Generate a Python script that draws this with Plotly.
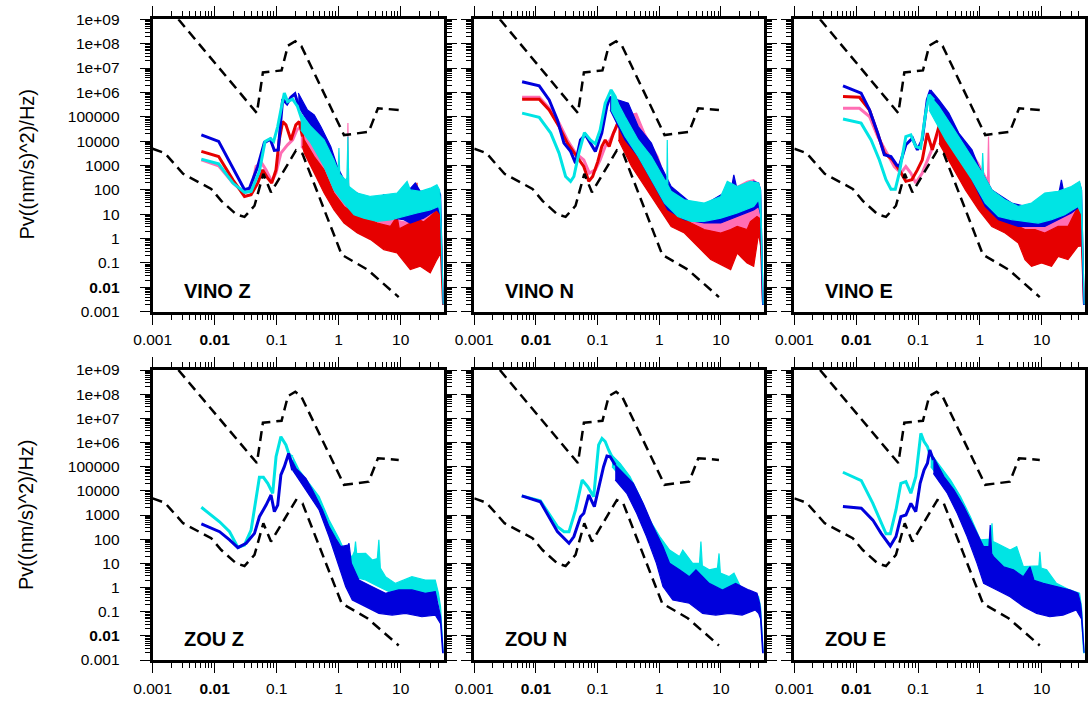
import numpy as np
import plotly.graph_objects as go

# ---------------------------------------------------------------------------
# Data: (frequency [Hz], PSD [dB re (nm/s)^2/Hz]) pairs.
# Smooth low-frequency part of each spectrum is a line; the noisy
# high-frequency part is given as an upper / lower envelope.
# ---------------------------------------------------------------------------

# Peterson high / low noise models (velocity)
NHNM = [(0.0026, 90.0), (0.048, 51.5), (0.060, 68.2), (0.120, 69.0), (0.152, 79.2),
        (0.200, 81.0), (0.250, 79.0), (1.22, 42.5), (3.05, 43.8), (4.3, 53.5), (9.3, 52.8)]
NLNM = [(0.001, 36.9), (0.00157, 35.1), (0.0031, 26.6), (0.0088, 20.4), (0.0128, 15.5),
        (0.0222, 10.0), (0.0303, 8.9), (0.0439, 13.5), (0.061, 26.6), (0.081, 19.0),
        (0.205, 36.2), (0.261, 34.8), (1.12, -6.6), (2.9, -12.7), (9.3, -24.0)]

# ---- VINO Z ----
VZ_PINK = [(0.0061, 32.3), (0.0116, 29.9), (0.0197, 22.8), (0.0303, 18.7), (0.0387, 20.0), (0.0466, 29.6),
           (0.0574, 31.0), (0.0675, 28.2), (0.0832, 23.5), (0.0975, 26.9), (0.117, 35.1), (0.150, 38.5),
           (0.181, 40.5), (0.212, 44.6), (0.245, 46.0)]
VZ_PINK_HI = [(0.245, 48.7), (0.356, 46.0), (0.515, 40.5), (0.745, 32.3), (1.08, 24.1), (1.38, 22.0), (1.41, 47.4),
              (1.45, 21.0), (1.56, 18.7), (2.26, 13.2), (4.18, 9.1), (7.74, 7.8), (14.3, 6.4), (23.4, 9.1),
              (34.0, 10.5), (44.0, 10.0), (48.5, -27.0)]
VZ_PINK_LO = [(0.245, 37.8), (0.356, 33.0), (0.582, 21.4), (0.953, 13.2), (1.56, 7.8), (2.55, 5.0), (5.35, 2.3),
              (11.2, 0.9), (18.3, -0.4), (30.0, 2.3), (38.4, 7.8), (44.0, 5.0), (47.5, -27.0)]
VZ_RED = [(0.0061, 35.8), (0.0116, 33.7), (0.0197, 24.1), (0.0303, 17.3), (0.0387, 18.0), (0.0495, 22.8),
          (0.0596, 28.2), (0.0716, 24.8), (0.0832, 22.8), (0.0975, 28.2), (0.110, 40.5), (0.125, 48.0),
          (0.141, 46.7), (0.170, 40.5), (0.204, 46.7), (0.231, 48.0), (0.261, 41.9)]
VZ_RED_HI = [(0.261, 44.0), (0.278, 40.5), (0.403, 33.7), (0.582, 28.2), (0.841, 18.7), (1.22, 13.2), (1.77, 10.5),
             (2.55, 9.1), (4.18, 6.4), (6.84, 5.0), (8.75, 9.1), (9.5, 4.0), (14.3, 6.4), (17.5, 8.0), (18.3, 22.9),
             (19.2, 8.0), (23.4, 6.8), (30.0, 9.1), (38.4, 11.8), (44.0, 10.0), (48.5, -27.0)]
VZ_RED_LO = [(0.261, 38.0), (0.278, 35.1), (0.403, 26.9), (0.582, 18.7), (0.841, 11.8), (1.22, 6.4), (2.0, 2.3),
             (3.27, -0.4), (5.35, -4.5), (8.75, -5.9), (14.3, -12.7), (20.7, -11.3), (30.0, -14.1), (38.4, -8.6),
             (44.0, -6.0), (47.5, -27.0)]
VZ_BLUE = [(0.0061, 42.6), (0.0116, 39.9), (0.0303, 20.1), (0.0364, 20.7), (0.0495, 29.6), (0.0634, 39.4),
           (0.0791, 40.8), (0.0916, 36.2), (0.106, 36.4), (0.125, 57.2), (0.147, 55.3), (0.170, 58.0),
           (0.197, 59.4), (0.223, 54.9)]
VZ_BLUE_HI = [(0.223, 59.7), (0.314, 52.8), (0.403, 50.8), (0.515, 46.0), (0.745, 37.8), (0.953, 29.6), (1.22, 24.1),
              (1.56, 20.0), (2.55, 17.3), (4.18, 15.9), (5.35, 18.0), (8.75, 14.6), (17.2, 22.8), (20.7, 19.4),
              (34.0, 19.4), (40.8, 20.0), (44.0, 18.0), (48.5, -27.0)]
VZ_BLUE_LO = [(0.223, 54.2), (0.356, 46.0), (0.582, 35.1), (0.953, 21.4), (1.38, 13.2), (2.26, 9.8), (4.18, 9.1),
              (11.2, 7.8), (14.3, 6.4), (23.4, 8.4), (38.4, 11.8), (44.0, 10.0), (47.5, -27.0)]
VZ_CYAN = [(0.0061, 32.6), (0.0116, 30.7), (0.0197, 22.8), (0.0303, 19.0), (0.0387, 19.4), (0.0527, 27.6),
           (0.065, 39.9), (0.0791, 41.1), (0.0895, 39.9), (0.104, 46.0), (0.120, 54.2), (0.133, 59.7),
           (0.150, 56.2), (0.181, 57.2), (0.217, 54.2), (0.261, 48.0)]
VZ_CYAN_HI = [(0.245, 51.5), (0.356, 46.0), (0.582, 40.5), (0.841, 32.3), (0.98, 28.0), (1.01, 37.2), (1.04, 26.5),
              (1.30, 24.0), (1.36, 25.0), (1.41, 41.9), (1.45, 23.0), (1.47, 21.4), (2.0, 18.7), (3.27, 17.3),
              (5.35, 18.0), (8.75, 18.7), (12.7, 23.5), (14.3, 20.0), (20.7, 19.4), (30.0, 20.7), (38.4, 22.1),
              (42.4, 20.0), (44.0, 15.0), (48.5, -27.0)]
VZ_CYAN_LO = [(0.245, 44.6), (0.356, 39.2), (0.582, 29.6), (0.841, 20.0), (1.22, 14.6), (1.77, 9.8), (2.55, 8.4),
              (4.18, 7.1), (6.84, 7.7), (11.2, 9.1), (18.3, 10.5), (30.0, 11.8), (40.8, 13.2), (44.0, 10.0),
              (47.5, -27.0)]

# ---- VINO N ----
VN_PINK = [(0.00597, 58.0), (0.0113, 58.0), (0.0164, 53.5), (0.0237, 47.4), (0.0323, 40.5), (0.0439, 35.1),
           (0.0597, 32.3), (0.0736, 26.9), (0.0920, 28.2), (0.110, 32.3), (0.133, 37.8), (0.160, 40.5),
           (0.193, 44.6), (0.232, 50.1)]
VN_PINK_HI = [(0.232, 50.1), (0.429, 51.5), (0.583, 43.3), (0.955, 33.7), (1.38, 21.4), (2.0, 14.6), (3.27, 11.8),
              (5.36, 11.8), (8.77, 13.2), (12.7, 15.9), (18.4, 21.4), (26.6, 23.5), (34.0, 24.2), (40.9, 22.0),
              (44.0, 18.0), (48.5, -27.0)]
VN_PINK_LO = [(0.232, 40.5), (0.456, 31.0), (0.955, 18.7), (2.0, 10.5), (4.19, 5.0), (8.77, 2.3), (14.4, 2.3),
              (23.5, 3.7), (38.5, 6.4), (44.0, 5.0), (47.5, -27.0)]
VN_RED = [(0.00597, 57.2), (0.0113, 57.2), (0.0164, 52.8), (0.0237, 46.0), (0.0323, 39.2), (0.0467, 33.7),
          (0.0597, 29.6), (0.0719, 23.5), (0.0832, 25.5), (0.101, 31.7), (0.117, 37.8), (0.133, 40.5),
          (0.154, 37.8), (0.181, 43.3), (0.218, 48.0)]
VN_RED_HI = [(0.218, 48.7), (0.279, 46.0), (0.456, 33.7), (0.746, 25.5), (1.22, 15.9), (2.0, 10.5), (3.27, 6.4),
             (5.36, 3.7), (9.93, 2.3), (14.4, 3.7), (18.4, 5.0), (26.6, 3.7), (30.1, 7.0), (38.5, 9.1),
             (44.0, 8.0), (48.5, -27.0)]
VN_RED_LO = [(0.218, 40.5), (0.356, 29.6), (0.583, 21.4), (0.955, 13.2), (1.56, 5.0), (2.56, 2.3), (4.19, -3.2),
             (6.85, -8.6), (11.2, -11.4), (14.4, -12.7), (18.4, -5.9), (22.0, -8.0), (26.6, -10.0), (34.0, -11.4),
             (40.9, 2.0), (44.0, -3.0), (47.5, -27.0)]
VN_BLUE = [(0.00597, 64.4), (0.0113, 62.7), (0.0164, 56.9), (0.0223, 48.7), (0.0285, 39.2), (0.0365, 35.8),
           (0.0439, 31.0), (0.0528, 40.5), (0.0635, 42.6), (0.0920, 35.8), (0.117, 43.3), (0.141, 54.2),
           (0.160, 58.3)]
VN_BLUE_HI = [(0.160, 58.3), (0.218, 56.9), (0.315, 55.6), (0.456, 46.0), (0.746, 39.2), (1.08, 29.6), (1.56, 21.4),
              (3.27, 14.6), (5.36, 13.9), (11.2, 18.7), (14.4, 19.0), (16.2, 26.2), (18.4, 20.0), (23.5, 21.4),
              (30.1, 19.0), (34.0, 23.5), (40.9, 22.8), (44.0, 20.0), (48.5, -27.0)]
VN_BLUE_LO = [(0.160, 52.8), (0.279, 40.5), (0.456, 33.7), (0.746, 24.2), (1.38, 11.8), (2.56, 7.8), (5.36, 6.4),
              (9.93, 6.4), (18.4, 9.1), (34.0, 11.8), (40.9, 13.2), (44.0, 10.0), (47.5, -27.0)]
VN_CYAN = [(0.00597, 51.5), (0.0113, 49.8), (0.0174, 43.3), (0.0237, 35.1), (0.0303, 25.5), (0.0365, 23.5),
           (0.0413, 25.5), (0.0497, 35.1), (0.0612, 43.5), (0.0764, 40.5), (0.0920, 38.9), (0.110, 44.6),
           (0.133, 55.6), (0.166, 61.0), (0.193, 58.3), (0.232, 51.5)]
VN_CYAN_HI = [(0.166, 61.0), (0.279, 50.1), (0.456, 40.5), (0.746, 33.7), (1.22, 24.2), (1.33, 23.5), (1.35, 40.5),
              (1.38, 22.0), (1.56, 19.4), (2.56, 15.9), (5.36, 14.6), (9.93, 17.3), (12.7, 23.5), (18.4, 21.4),
              (30.1, 23.5), (40.9, 22.8), (44.0, 20.0), (48.5, -27.0)]
VN_CYAN_LO = [(0.166, 52.8), (0.279, 41.9), (0.456, 33.7), (0.746, 24.2), (1.22, 14.6), (2.0, 9.1), (3.27, 7.1),
              (5.36, 7.1), (9.93, 8.4), (18.4, 10.5), (34.0, 13.2), (40.9, 15.9), (44.0, 10.0), (47.5, -27.0)]

# ---- VINO E ----
VE_PINK = [(0.00612, 53.5), (0.0113, 53.5), (0.0164, 50.1), (0.0223, 41.9), (0.0303, 35.8), (0.0413, 29.6),
           (0.0528, 26.9), (0.0635, 29.6), (0.0764, 26.9), (0.0920, 22.8), (0.117, 26.9), (0.151, 33.7),
           (0.193, 40.5), (0.232, 46.0)]
VE_PINK_HI = [(0.232, 47.4), (0.356, 46.0), (0.583, 39.2), (0.955, 31.0), (1.33, 24.0), (1.38, 41.9), (1.42, 22.0),
              (1.56, 20.0), (2.56, 15.9), (5.36, 11.8), (11.2, 10.5), (18.4, 11.8), (30.1, 13.2), (40.9, 15.9),
              (44.0, 14.0), (48.5, -27.0)]
VE_PINK_LO = [(0.232, 40.5), (0.456, 29.6), (0.955, 18.7), (2.0, 10.5), (4.19, 5.0), (7.76, 2.3), (12.7, 0.9),
              (20.8, 2.3), (38.5, 5.0), (44.0, 4.0), (47.5, -27.0)]
VE_RED = [(0.00612, 58.3), (0.0113, 58.0), (0.0164, 52.8), (0.0223, 43.3), (0.0285, 35.1), (0.0388, 32.3),
          (0.0497, 28.2), (0.0635, 23.5), (0.0793, 24.2), (0.0977, 28.2), (0.117, 32.3), (0.141, 43.3),
          (0.170, 36.4), (0.218, 46.0)]
VE_RED_HI = [(0.218, 46.0), (0.315, 43.3), (0.456, 33.7), (0.746, 25.5), (1.22, 15.9), (2.0, 10.5), (3.27, 6.4),
             (5.36, 3.7), (7.76, 3.7), (11.2, 2.3), (18.4, 5.0), (26.6, 5.0), (38.5, 13.2), (44.0, 10.0),
             (48.5, -27.0)]
VE_RED_LO = [(0.218, 39.2), (0.356, 29.6), (0.583, 20.0), (0.955, 11.8), (1.56, 5.0), (2.56, 2.3), (4.19, -1.8),
             (5.36, -8.6), (6.85, -11.4), (9.93, -10.0), (14.4, -11.4), (18.4, -7.3), (26.6, -8.6), (38.5, -3.2),
             (44.0, -3.0), (47.5, -27.0)]
VE_BLUE = [(0.00612, 62.7), (0.0120, 59.7), (0.0164, 52.8), (0.0223, 43.3), (0.0285, 34.4), (0.0365, 33.7),
           (0.0450, 30.3), (0.0497, 29.6), (0.0635, 38.5), (0.0813, 41.2), (0.0977, 36.4), (0.117, 40.5),
           (0.141, 56.9), (0.160, 61.0)]
VE_BLUE_HI = [(0.160, 61.0), (0.218, 56.9), (0.315, 51.5), (0.456, 43.3), (0.746, 36.4), (0.955, 29.6), (1.56, 20.0),
              (3.27, 14.6), (5.36, 13.2), (9.93, 15.9), (18.4, 17.0), (20.8, 24.1), (23.5, 17.0), (30.1, 19.4),
              (40.9, 22.8), (44.0, 20.0), (48.5, -27.0)]
VE_BLUE_LO = [(0.160, 54.2), (0.279, 41.9), (0.456, 33.7), (0.746, 24.2), (1.22, 13.2), (2.0, 7.8), (4.19, 5.0),
              (6.85, 5.0), (11.2, 5.0), (18.4, 7.8), (30.1, 10.5), (40.9, 13.2), (44.0, 10.0), (47.5, -27.0)]
VE_CYAN = [(0.00612, 49.1), (0.0120, 47.4), (0.0174, 40.5), (0.0237, 32.3), (0.0303, 24.2), (0.0365, 20.3),
           (0.0429, 20.3), (0.0497, 26.9), (0.0635, 41.9), (0.0764, 42.6), (0.0920, 37.8), (0.110, 37.1),
           (0.133, 51.5), (0.151, 59.0), (0.181, 56.9)]
VE_CYAN_HI = [(0.151, 59.0), (0.218, 54.2), (0.356, 46.0), (0.583, 37.8), (0.955, 29.6), (1.08, 27.0), (1.11, 35.1),
              (1.15, 26.0), (1.56, 20.0), (2.56, 15.9), (4.19, 13.2), (6.85, 14.6), (11.2, 18.7), (18.4, 19.4),
              (30.1, 21.4), (40.9, 23.5), (44.0, 20.0), (48.5, -27.0)]
VE_CYAN_LO = [(0.151, 52.8), (0.279, 40.5), (0.456, 32.3), (0.746, 24.2), (1.22, 14.6), (2.0, 9.1), (3.27, 7.8),
              (5.36, 7.1), (8.77, 6.4), (14.4, 7.8), (23.5, 9.8), (38.5, 13.2), (44.0, 10.0), (47.5, -27.0)]

# ---- ZOU Z ----
ZZ_CYAN = [(0.0061, 33.2), (0.0120, 27.2), (0.0174, 23.1), (0.0237, 16.6), (0.0303, 17.6), (0.0387, 23.8),
           (0.0527, 45.6), (0.0611, 45.6), (0.0718, 43.1), (0.0863, 39.0), (0.0977, 54.1), (0.117, 62.4),
           (0.141, 59.0), (0.160, 54.8), (0.181, 54.1)]
ZZ_CYAN_HI = [(0.181, 54.1), (0.231, 48.6), (0.335, 43.1), (0.484, 37.6), (0.701, 27.9), (1.01, 20.3), (1.30, 14.1),
              (1.66, 12.8), (1.80, 15.0), (1.87, 19.0), (1.95, 14.0), (2.72, 14.1), (3.48, 11.4), (4.20, 12.0),
              (4.45, 19.7), (4.70, 8.0), (5.69, 4.5), (8.24, 1.7), (15.2, 4.5), (24.9, 3.1), (36.1, 3.1),
              (40.7, -2.4), (44.0, -8.0), (48.5, -27.0)]
ZZ_CYAN_LO = [(0.181, 48.6), (0.296, 41.7), (0.484, 33.5), (0.701, 23.8), (1.01, 11.4), (1.66, 4.5), (2.72, 3.1),
              (4.45, 0.3), (7.28, -2.4), (11.9, -3.8), (22.0, -5.2), (36.1, -3.8), (40.7, -5.2), (44.0, -10.0),
              (47.5, -27.0)]
ZZ_BLUE = [(0.0061, 26.3), (0.0120, 23.1), (0.0174, 19.7), (0.0237, 16.5), (0.0322, 18.3), (0.0439, 22.4),
           (0.0527, 29.3), (0.0675, 34.1), (0.0811, 38.3), (0.0918, 31.4), (0.104, 34.1), (0.117, 46.6),
           (0.133, 50.0), (0.156, 55.5), (0.181, 48.6)]
ZZ_BLUE_HI = [(0.156, 55.5), (0.205, 49.3), (0.296, 45.2), (0.378, 40.3), (0.548, 32.1), (0.701, 25.2), (0.898, 20.3),
              (1.08, 16.9), (1.40, 17.5), (1.47, 18.3), (1.60, 10.0), (2.12, 3.1), (3.48, 0.3), (5.69, -2.4),
              (9.31, -1.0), (15.2, -1.0), (24.9, -2.4), (36.1, -1.7), (40.7, -7.9), (44.0, -12.0), (48.5, -27.0)]
ZZ_BLUE_LO = [(0.181, 48.6), (0.296, 40.3), (0.484, 32.1), (0.701, 21.0), (1.01, 8.6), (1.30, 0.3), (1.66, -5.2),
              (2.72, -7.9), (4.45, -10.7), (7.28, -11.4), (11.9, -10.7), (22.0, -12.1), (36.1, -11.4),
              (40.7, -13.4), (44.0, -15.0), (47.5, -27.0)]

# ---- ZOU N ----
ZN_CYAN = [(0.0059, 37.9), (0.0118, 35.9), (0.0223, 25.2), (0.0286, 23.1), (0.0344, 23.1), (0.0440, 32.1),
           (0.0562, 44.5), (0.0693, 41.7), (0.0865, 37.6), (0.104, 59.0), (0.118, 61.7), (0.133, 60.4),
           (0.151, 56.9), (0.171, 54.1)]
ZN_CYAN_HI = [(0.171, 54.8), (0.232, 51.4), (0.336, 45.9), (0.486, 37.6), (0.703, 27.9), (1.02, 21.1), (1.47, 15.5),
              (2.13, 12.8), (2.41, 15.5), (3.48, 10.0), (4.50, 10.0), (4.74, 19.0), (5.00, 9.0), (6.46, 7.3),
              (8.80, 8.0), (9.33, 14.1), (9.80, 6.0), (13.5, 4.5), (16.3, 5.9), (22.1, -1.0), (36.2, -2.4),
              (40.9, -3.8), (44.0, -8.0), (48.5, -27.0)]
ZN_CYAN_LO = [(0.171, 50.0), (0.262, 44.5), (0.430, 34.8), (0.621, 25.2), (0.900, 15.5), (1.30, 7.3), (1.88, 3.1),
              (3.08, -1.0), (5.05, -5.2), (8.26, -7.9), (13.5, -9.3), (22.1, -9.3), (36.2, -7.9), (40.9, -9.3),
              (44.0, -12.0), (47.5, -27.0)]
ZN_BLUE = [(0.0059, 37.9), (0.0118, 35.5), (0.0223, 23.1), (0.0344, 18.3), (0.0413, 21.1), (0.0528, 29.3),
           (0.0598, 30.7), (0.0719, 38.3), (0.0887, 33.5), (0.111, 44.5), (0.125, 50.0), (0.142, 54.4),
           (0.160, 54.1), (0.193, 50.7)]
ZN_BLUE_HI = [(0.193, 50.7), (0.262, 47.2), (0.380, 43.1), (0.550, 34.8), (0.796, 25.2), (1.15, 16.9), (1.47, 10.0),
              (2.13, 7.3), (3.08, 4.5), (3.94, 7.3), (6.46, 1.7), (10.6, -1.0), (17.3, 1.7), (28.3, -1.0),
              (38.5, -2.4), (42.5, -6.6), (44.0, -10.0), (48.5, -27.0)]
ZN_BLUE_LO = [(0.193, 44.5), (0.297, 39.0), (0.430, 30.7), (0.621, 21.1), (0.900, 10.0), (1.15, 0.4), (1.66, -5.2),
              (3.08, -6.5), (5.05, -10.7), (8.26, -11.4), (13.5, -10.7), (22.1, -11.4), (36.2, -9.3),
              (40.9, -10.7), (44.0, -13.0), (47.5, -27.0)]

# ---- ZOU E ----
ZE_CYAN = [(0.0061, 47.7), (0.0121, 44.2), (0.0186, 34.8), (0.0253, 26.6), (0.0304, 22.2), (0.0356, 22.2),
           (0.0440, 32.1), (0.0528, 43.1), (0.0637, 43.8), (0.0766, 39.0), (0.0920, 45.9), (0.111, 63.8),
           (0.125, 60.4), (0.142, 58.3), (0.160, 54.1)]
ZE_CYAN_HI = [(0.160, 55.5), (0.232, 50.0), (0.336, 44.5), (0.486, 37.6), (0.703, 29.3), (1.02, 19.7), (1.50, 20.0),
              (1.57, 26.6), (1.63, 19.0), (1.88, 18.3), (3.08, 15.5), (3.94, 16.9), (5.05, 8.6), (9.00, 9.0),
              (9.33, 14.8), (9.80, 8.0), (12.0, 7.3), (17.3, 1.7), (28.3, -1.0), (40.9, -2.4), (44.0, -8.0),
              (48.5, -27.0)]
ZE_CYAN_LO = [(0.160, 50.0), (0.262, 43.1), (0.430, 33.5), (0.703, 22.4), (1.02, 12.8), (1.47, 7.3), (2.41, 3.1),
              (3.94, -1.0), (6.46, -5.2), (10.6, -7.9), (17.3, -9.3), (28.3, -9.3), (40.9, -9.3), (44.0, -12.0),
              (47.5, -27.0)]
ZE_BLUE = [(0.0061, 33.5), (0.0121, 32.8), (0.0186, 27.9), (0.0253, 22.4), (0.0356, 17.2), (0.0440, 21.1),
           (0.0528, 29.3), (0.0637, 30.0), (0.0766, 34.8), (0.0920, 31.4), (0.108, 43.1), (0.125, 48.6),
           (0.142, 51.4), (0.155, 56.9), (0.177, 52.8)]
ZE_BLUE_HI = [(0.177, 54.1), (0.262, 45.9), (0.380, 40.4), (0.550, 33.5), (0.796, 25.2), (1.15, 16.9), (1.40, 17.0),
              (1.47, 25.9), (1.55, 14.0), (1.66, 12.8), (2.41, 8.6), (3.48, 7.3), (5.05, 4.5), (6.46, 8.6),
              (7.50, 3.0), (10.6, 1.7), (17.3, 0.4), (28.3, -1.0), (38.5, -2.4), (42.5, -6.6), (44.0, -10.0),
              (48.5, -27.0)]
ZE_BLUE_LO = [(0.177, 47.2), (0.297, 39.0), (0.430, 30.7), (0.621, 21.1), (0.900, 10.0), (1.15, 1.7), (1.88, -1.0),
              (3.08, -3.8), (5.05, -7.9), (8.26, -10.7), (13.5, -12.1), (22.1, -11.4), (36.2, -9.3),
              (44.0, -13.0), (47.5, -27.0)]

PANEL_TITLES = ["VINO Z", "VINO N", "VINO E", "ZOU Z", "ZOU N", "ZOU E"]
Y_TICK_VALUES = [1e-3, 1e-2, 1e-1, 1, 10, 100, 1e3, 1e4, 1e5, 1e6, 1e7, 1e8, 1e9]
Y_TICK_TEXT = ["0.001", "<b>0.01</b>", "0.1", "1", "10", "100", "1000", "10000", "100000",
               "1e+06", "1e+07", "1e+08", "1e+09"]
X_TICK_VALUES = [1e-3, 1e-2, 1e-1, 1, 10]
X_TICK_TEXT = ["0.001", "<b>0.01</b>", "0.1", "1", "10"]
Y_TITLE = "Pv((nm/s)^2)/Hz)"

# ---------------------------------------------------------------------------
COLORS = {"blue": "#0000dc", "red": "#e60000", "pink": "#ff6eb4", "cyan": "#00e4e4"}

PANEL_CURVES = [
    [("pink", VZ_PINK, VZ_PINK_HI, VZ_PINK_LO), ("red", VZ_RED, VZ_RED_HI, VZ_RED_LO),
     ("blue", VZ_BLUE, VZ_BLUE_HI, VZ_BLUE_LO), ("cyan", VZ_CYAN, VZ_CYAN_HI, VZ_CYAN_LO)],
    [("pink", VN_PINK, VN_PINK_HI, VN_PINK_LO), ("red", VN_RED, VN_RED_HI, VN_RED_LO),
     ("blue", VN_BLUE, VN_BLUE_HI, VN_BLUE_LO), ("cyan", VN_CYAN, VN_CYAN_HI, VN_CYAN_LO)],
    [("pink", VE_PINK, VE_PINK_HI, VE_PINK_LO), ("red", VE_RED, VE_RED_HI, VE_RED_LO),
     ("blue", VE_BLUE, VE_BLUE_HI, VE_BLUE_LO), ("cyan", VE_CYAN, VE_CYAN_HI, VE_CYAN_LO)],
    [("cyan", ZZ_CYAN, ZZ_CYAN_HI, ZZ_CYAN_LO), ("blue", ZZ_BLUE, ZZ_BLUE_HI, ZZ_BLUE_LO)],
    [("cyan", ZN_CYAN, ZN_CYAN_HI, ZN_CYAN_LO), ("blue", ZN_BLUE, ZN_BLUE_HI, ZN_BLUE_LO)],
    [("cyan", ZE_CYAN, ZE_CYAN_HI, ZE_CYAN_LO), ("blue", ZE_BLUE, ZE_BLUE_HI, ZE_BLUE_LO)],
]

X_DOMAINS = [(0.1403, 0.4081), (0.4359, 0.7022), (0.7301, 0.9972)]
Y_DOMAINS = [(0.5572, 0.9726), (0.0625, 0.4744)]
FONT = "Liberation Sans, Arial, Helvetica, sans-serif"


def to_xy(points):
    f = np.array([p[0] for p in points], dtype=float)
    psd = 10.0 ** (np.array([p[1] for p in points], dtype=float) / 10.0)
    return f, psd


minor_x = [k * 10.0 ** e for e in range(-3, 2) for k in range(2, 10) if k * 10.0 ** e < 50]
minor_y = [k * 10.0 ** e for e in range(-3, 9) for k in range(2, 10)]

fig = go.Figure()

for i, curves in enumerate(PANEL_CURVES):
    n = "" if i == 0 else str(i + 1)
    xr, yr = "x" + n, "y" + n
    for cname, line, hi, lo in curves:
        col = COLORS[cname]
        fh, ph = to_xy(hi)
        fl, pl = to_xy(lo)
        fig.add_trace(go.Scatter(
            x=np.concatenate([fh, fl[::-1]]), y=np.concatenate([ph, pl[::-1]]),
            mode="lines", fill="toself", fillcolor=col,
            line=dict(color=col, width=1.2), xaxis=xr, yaxis=yr, hoverinfo="skip"))
        fx, py = to_xy(line)
        fig.add_trace(go.Scatter(x=fx, y=py, mode="lines",
                                 line=dict(color=col, width=3), xaxis=xr, yaxis=yr))
    for model in (NHNM, NLNM):
        fx, py = to_xy(model)
        fig.add_trace(go.Scatter(x=fx, y=py, mode="lines",
                                 line=dict(color="black", width=2.5, dash="10px,6px"),
                                 xaxis=xr, yaxis=yr))

layout = dict(width=1088, height=704,
              margin=dict(l=0, r=0, t=0, b=0, pad=0, autoexpand=False),
              paper_bgcolor="white", plot_bgcolor="white", showlegend=False)

annotations = []
for i in range(6):
    row, col = divmod(i, 3)
    n = "" if i == 0 else str(i + 1)
    tickfont = dict(family=FONT, size=15.5, color="black")
    layout["xaxis" + n] = dict(
        type="log", range=[-3, np.log10(50)], domain=X_DOMAINS[col], anchor="y" + n,
        automargin=False,
        showline=True, linewidth=3, linecolor="black", mirror="ticks",
        ticks="outside", ticklen=10, tickwidth=1, tickcolor="black",
        tickmode="array", tickvals=X_TICK_VALUES, ticktext=X_TICK_TEXT,
        minor=dict(ticks="outside", ticklen=5, tickwidth=1, tickcolor="black",
                   tickmode="array", tickvals=minor_x, showgrid=False),
        showgrid=False, zeroline=False, tickfont=tickfont, ticklabelstandoff=2)
    layout["yaxis" + n] = dict(
        type="log", range=[-3, 9], domain=Y_DOMAINS[row], anchor="x" + n,
        automargin=False,
        showline=True, linewidth=3, linecolor="black", mirror="ticks",
        ticks="outside", ticklen=10, tickwidth=1, tickcolor="black",
        tickmode="array", tickvals=Y_TICK_VALUES, ticktext=Y_TICK_TEXT,
        minor=dict(ticks="outside", ticklen=5, tickwidth=1, tickcolor="black",
                   tickmode="array", tickvals=minor_y, showgrid=False),
        showticklabels=(col == 0),
        showgrid=False, zeroline=False, tickfont=tickfont, ticklabelstandoff=17)
    annotations.append(dict(
        text="<b>%s</b>" % PANEL_TITLES[i], xref="x%s domain" % n, yref="y%s domain" % n,
        x=0.10, y=0.028, xanchor="left", yanchor="bottom", showarrow=False,
        font=dict(family=FONT, size=20, color="black")))

for yc in (1 - 164.5 / 704, 1 - 515 / 704):
    annotations.append(dict(text=Y_TITLE, xref="paper", yref="paper", x=26 / 1088, y=yc,
                            xanchor="center", yanchor="middle", textangle=-90, showarrow=False,
                            font=dict(family=FONT, size=20, color="black")))

layout["annotations"] = annotations
fig.update_layout(**layout)

# page body without its default margin so the figure fills the window exactly
fig.write_html("out.html",
               post_script="document.body.style.margin='0';document.body.style.overflow='hidden';")
